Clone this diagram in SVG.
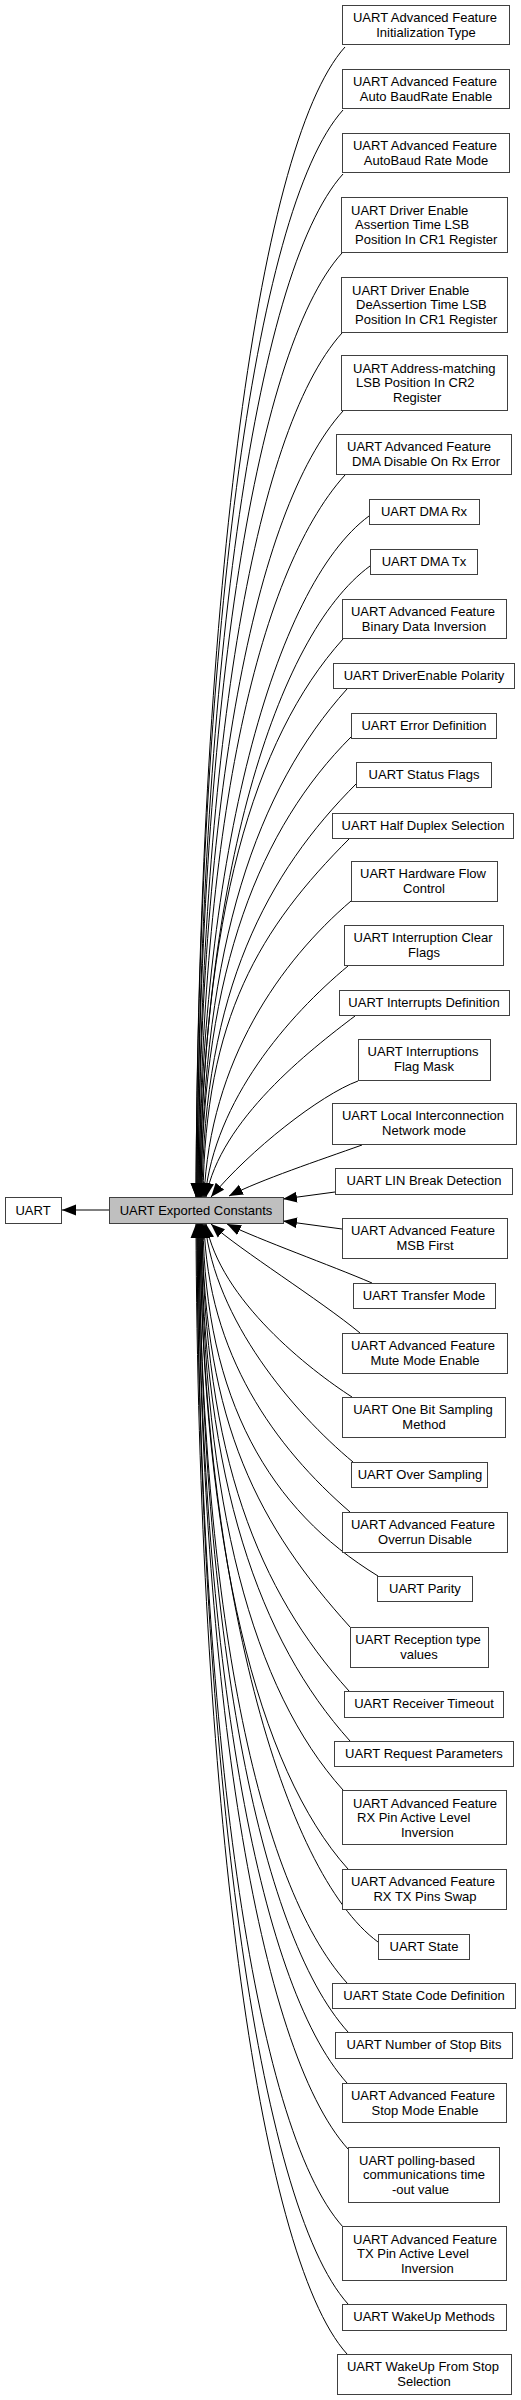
<svg xmlns="http://www.w3.org/2000/svg" width="521" height="2400" viewBox="0 0 521 2400">
<defs>
<style>
rect{fill:#fff;stroke:#404040;stroke-width:1}
#central rect{fill:#bfbfbf}
text{font-family:"Liberation Sans",Arial,sans-serif;font-size:13px;fill:#000}
.c{text-anchor:middle}
#edges path{fill:none;stroke:#000;stroke-width:1;marker-end:url(#ah)}
</style>
<marker id="ah" markerUnits="userSpaceOnUse" markerWidth="15" markerHeight="12" viewBox="0 0 15 12" refX="14" refY="6" orient="auto"><path d="M0,0.5 L14,6 L0,11.5 z" fill="#000"/></marker>
</defs>
<rect x="0" y="0" width="521" height="2400" style="fill:#fff;stroke:none"/>
<g id="edges">
<path d="M109,1210 L62,1210"/>
<path d="M345,47 C255,147 198,622 196,1197"/>
<path d="M343,110 C253,210 198,654 196,1197"/>
<path d="M343,174 C253,274 199,686 197,1197"/>
<path d="M342,253 C252,353 199,725 197,1197"/>
<path d="M342,333 C252,433 200,765 198,1197"/>
<path d="M343,411 C253,511 200,804 198,1197"/>
<path d="M345,475 C255,575 201,836 199,1197"/>
<path d="M369,516 C274,586 201,857 199,1197"/>
<path d="M370,566 C275,636 202,882 200,1197"/>
<path d="M343,639 C253,739 202,918 200,1197"/>
<path d="M347,689 C257,789 203,943 201,1197"/>
<path d="M351,737 C261,827 203,967 201,1197"/>
<path d="M357,783 C267,873 204,990 202,1197"/>
<path d="M350,838 C260,928 205,1017 203,1197"/>
<path d="M351,901 C281,961 210,1060 204,1197"/>
<path d="M348,966 C288,1016 215,1100 205,1197"/>
<path d="M355,1016 C310,1050 220,1120 206,1197"/>
<path d="M358,1081 C320,1095 250,1150 211,1197"/>
<path d="M362,1145 C320,1160 260,1180 229,1196"/>
<path d="M335,1192 L283,1199"/>
<path d="M342,1229 L283,1221"/>
<path d="M372,1283 C330,1265 260,1240 227,1224"/>
<path d="M360,1333 C320,1300 240,1250 211,1224"/>
<path d="M352,1397 C310,1370 220,1300 206,1224"/>
<path d="M353,1462 C293,1412 215,1320 205,1224"/>
<path d="M350,1512 C275,1447 208,1355 204,1224"/>
<path d="M378,1576 C270,1510 205,1400 203,1224"/>
<path d="M350,1627 C260,1527 204,1426 202,1224"/>
<path d="M349,1691 C259,1591 204,1458 202,1224"/>
<path d="M350,1741 C260,1641 203,1483 201,1224"/>
<path d="M343,1790 C253,1690 203,1507 201,1224"/>
<path d="M348,1869 C258,1769 202,1547 200,1224"/>
<path d="M378,1942 C283,1872 202,1583 200,1224"/>
<path d="M347,1983 C257,1883 201,1604 199,1224"/>
<path d="M348,2032 C258,1932 201,1628 199,1224"/>
<path d="M347,2083 C257,1983 200,1654 198,1224"/>
<path d="M348,2149 C258,2049 200,1687 198,1224"/>
<path d="M343,2227 C253,2127 199,1726 197,1224"/>
<path d="M348,2304 C258,2204 199,1764 197,1224"/>
<path d="M347,2354 C257,2254 198,1789 196,1224"/>
</g>
<g id="uart"><rect x="5.5" y="1197.5" width="56" height="26"/><text class="c" x="33" y="1214.5">UART</text></g>
<g id="central"><rect x="109.5" y="1197.5" width="174" height="26"/><text class="c" x="196" y="1214.5">UART Exported Constants</text></g>
<g id="n1"><rect x="342.5" y="5.5" width="167" height="39"/><text class="c" x="425" y="21.5">UART Advanced Feature</text><text class="c" x="426" y="36.5">Initialization Type</text></g>
<g id="n2"><rect x="342.5" y="69.5" width="167" height="39"/><text class="c" x="425" y="85.5">UART Advanced Feature</text><text class="c" x="426" y="100.5">Auto BaudRate Enable</text></g>
<g id="n3"><rect x="342.5" y="133.5" width="167" height="39"/><text class="c" x="425" y="149.5">UART Advanced Feature</text><text class="c" x="426" y="164.5">AutoBaud Rate Mode</text></g>
<g id="n4"><rect x="341.5" y="197.5" width="166" height="55"/><text x="351" y="214.5">UART Driver Enable</text><text x="355" y="229">Assertion Time LSB</text><text x="355" y="243.5">Position In CR1 Register</text></g>
<g id="n5"><rect x="341.5" y="277.5" width="166" height="55"/><text x="352" y="294.5">UART Driver Enable</text><text x="356" y="309">DeAssertion Time LSB</text><text x="355" y="323.5">Position In CR1 Register</text></g>
<g id="n6"><rect x="341.5" y="355.5" width="166" height="55"/><text x="353" y="372.5">UART Address-matching</text><text x="356" y="387">LSB Position In CR2</text><text x="393" y="401.5">Register</text></g>
<g id="n7"><rect x="336.5" y="434.5" width="175" height="40"/><text x="347" y="450.5">UART Advanced Feature</text><text x="352" y="465.5">DMA Disable On Rx Error</text></g>
<g id="n8"><rect x="369.5" y="499.5" width="110" height="25"/><text class="c" x="424" y="516">UART DMA Rx</text></g>
<g id="n9"><rect x="370.5" y="549.5" width="107" height="25"/><text class="c" x="424" y="566">UART DMA Tx</text></g>
<g id="n10"><rect x="342.5" y="599.5" width="164" height="39"/><text class="c" x="423" y="615.5">UART Advanced Feature</text><text class="c" x="424" y="630.5">Binary Data Inversion</text></g>
<g id="n11"><rect x="333.5" y="663.5" width="181" height="25"/><text class="c" x="424" y="680">UART DriverEnable Polarity</text></g>
<g id="n12"><rect x="351.5" y="713.5" width="145" height="25"/><text class="c" x="424" y="730">UART Error Definition</text></g>
<g id="n13"><rect x="356.5" y="762.5" width="135" height="25"/><text class="c" x="424" y="779">UART Status Flags</text></g>
<g id="n14"><rect x="332.5" y="813.5" width="181" height="25"/><text class="c" x="423" y="830">UART Half Duplex Selection</text></g>
<g id="n15"><rect x="351.5" y="861.5" width="146" height="40"/><text class="c" x="423" y="877.5">UART Hardware Flow</text><text class="c" x="424" y="892.5">Control</text></g>
<g id="n16"><rect x="344.5" y="925.5" width="159" height="40"/><text class="c" x="423" y="941.5">UART Interruption Clear</text><text class="c" x="424" y="956.5">Flags</text></g>
<g id="n17"><rect x="339.5" y="990.5" width="170" height="25"/><text class="c" x="424" y="1007">UART Interrupts Definition</text></g>
<g id="n18"><rect x="358.5" y="1039.5" width="132" height="41"/><text class="c" x="423" y="1055.5">UART Interruptions</text><text class="c" x="424" y="1070.5">Flag Mask</text></g>
<g id="n19"><rect x="332.5" y="1103.5" width="184" height="41"/><text class="c" x="423" y="1119.5">UART Local Interconnection</text><text class="c" x="424" y="1134.5">Network mode</text></g>
<g id="n20"><rect x="335.5" y="1168.5" width="177" height="26"/><text class="c" x="424" y="1185">UART LIN Break Detection</text></g>
<g id="n21"><rect x="342.5" y="1218.5" width="165" height="40"/><text class="c" x="423" y="1234.5">UART Advanced Feature</text><text class="c" x="425" y="1249.5">MSB First</text></g>
<g id="n22"><rect x="353.5" y="1283.5" width="142" height="25"/><text class="c" x="424" y="1300">UART Transfer Mode</text></g>
<g id="n23"><rect x="342.5" y="1333.5" width="165" height="40"/><text class="c" x="423" y="1349.5">UART Advanced Feature</text><text class="c" x="425" y="1364.5">Mute Mode Enable</text></g>
<g id="n24"><rect x="342.5" y="1397.5" width="163" height="40"/><text class="c" x="423" y="1413.5">UART One Bit Sampling</text><text class="c" x="424" y="1428.5">Method</text></g>
<g id="n25"><rect x="351.5" y="1462.5" width="136" height="25"/><text class="c" x="420" y="1479">UART Over Sampling</text></g>
<g id="n26"><rect x="342.5" y="1512.5" width="165" height="40"/><text class="c" x="423" y="1528.5">UART Advanced Feature</text><text class="c" x="425" y="1543.5">Overrun Disable</text></g>
<g id="n27"><rect x="377.5" y="1576.5" width="95" height="25"/><text class="c" x="425" y="1593">UART Parity</text></g>
<g id="n28"><rect x="350.5" y="1627.5" width="138" height="40"/><text class="c" x="418" y="1643.5">UART Reception type</text><text class="c" x="419" y="1658.5">values</text></g>
<g id="n29"><rect x="344.5" y="1691.5" width="159" height="26"/><text class="c" x="424" y="1708">UART Receiver Timeout</text></g>
<g id="n30"><rect x="334.5" y="1741.5" width="179" height="25"/><text class="c" x="424" y="1758">UART Request Parameters</text></g>
<g id="n31"><rect x="342.5" y="1790.5" width="164" height="54"/><text x="353" y="1807.5">UART Advanced Feature</text><text x="357" y="1822">RX Pin Active Level</text><text x="401" y="1836.5">Inversion</text></g>
<g id="n32"><rect x="342.5" y="1869.5" width="164" height="40"/><text class="c" x="423" y="1885.5">UART Advanced Feature</text><text class="c" x="425" y="1900.5">RX TX Pins Swap</text></g>
<g id="n33"><rect x="378.5" y="1934.5" width="91" height="25"/><text class="c" x="424" y="1951">UART State</text></g>
<g id="n34"><rect x="332.5" y="1983.5" width="183" height="25"/><text class="c" x="424" y="2000">UART State Code Definition</text></g>
<g id="n35"><rect x="335.5" y="2032.5" width="177" height="26"/><text class="c" x="424" y="2049">UART Number of Stop Bits</text></g>
<g id="n36"><rect x="342.5" y="2083.5" width="164" height="39"/><text class="c" x="423" y="2099.5">UART Advanced Feature</text><text class="c" x="425" y="2114.5">Stop Mode Enable</text></g>
<g id="n37"><rect x="348.5" y="2147.5" width="151" height="55"/><text x="359" y="2164.5">UART polling-based</text><text x="363" y="2179">communications time</text><text x="392" y="2193.5">-out value</text></g>
<g id="n38"><rect x="342.5" y="2226.5" width="164" height="54"/><text x="353" y="2243.5">UART Advanced Feature</text><text x="357" y="2258">TX Pin Active Level</text><text x="401" y="2272.5">Inversion</text></g>
<g id="n39"><rect x="342.5" y="2304.5" width="164" height="26"/><text class="c" x="424" y="2321">UART WakeUp Methods</text></g>
<g id="n40"><rect x="337.5" y="2354.5" width="174" height="40"/><text class="c" x="423" y="2370.5">UART WakeUp From Stop</text><text class="c" x="424" y="2385.5">Selection</text></g>
</svg>
